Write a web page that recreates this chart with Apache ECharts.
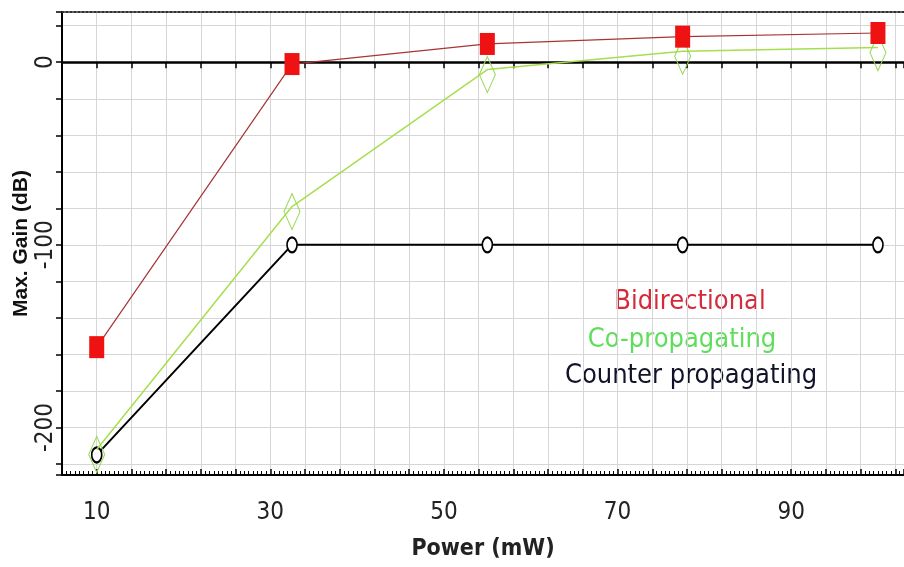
<!DOCTYPE html>
<html>
<head>
<meta charset="utf-8">
<script src="https://cdn.jsdelivr.net/npm/echarts@6/dist/echarts.min.js"></script>
<style>
  html, body { margin: 0; padding: 0; background: #fff; }
  #chart { width: 904px; height: 567px; }
</style>
</head>
<body>
<div id="chart"></div>
<script>
// data
const powerMw = [10, 32.5, 55, 77.5, 100];
const bidirectional = [-156, -1, 10, 14, 16];
const coPropagating = [-212, -79, -4, 6, 8];
const counterPropagating = [-215, -100, -100, -100, -100];
const xTickLabels = [10, 30, 50, 70, 90];
const yTickLabels = [0, -100, -200];

const narrow = "'DejaVu Sans Condensed', 'Liberation Sans Narrow', sans-serif";

const pairs = ys => powerMw.map((x, i) => [x, ys[i]]);

const chart = echarts.init(document.getElementById('chart'));

const option = {
  animation: false,
  backgroundColor: '#fff',
  grid: { left: 62, right: 0, top: 12, bottom: 92, containLabel: false, outerBoundsMode: 'none' },
  xAxis: [
    {
      // bottom axis with labels
      type: 'value',
      position: 'bottom',
      min: 6,
      max: 103,
      interval: 4,
      name: 'Power (mW)',
      nameLocation: 'middle',
      nameGap: 63,
      nameMoveOverlap: false,
      nameTextStyle: { fontFamily: narrow, fontSize: 23, fontWeight: 'bold', color: '#222' },
      axisLine: { onZero: false, lineStyle: { color: '#000', width: 2 } },
      axisTick: { inside: true, length: 6, lineStyle: { color: '#000', width: 1.5 } },
      minorTick: { show: true, splitNumber: 8, length: 4, lineStyle: { color: '#000' } },
      axisLabel: {
        margin: 26,
        fontFamily: narrow,
        fontSize: 24,
        color: '#222',
        formatter: v => (xTickLabels.includes(v) ? String(v) : '')
      },
      splitLine: { show: true, lineStyle: { color: '#d6d6d6', width: 1 } }
    },
    {
      // bold line along y = 0
      type: 'value',
      position: 'bottom',
      min: 6,
      max: 103,
      interval: 4,
      axisLine: { onZero: true, onZeroAxisIndex: 0, lineStyle: { color: '#000', width: 2.5 } },
      axisTick: { show: true, length: 6, lineStyle: { color: '#000', width: 1.5 } },
      axisLabel: { show: false },
      splitLine: { show: false }
    },
    {
      // dotted top border
      type: 'value',
      position: 'top',
      min: 6,
      max: 103,
      axisLine: { onZero: false, lineStyle: { color: '#333', width: 2, type: 'dotted' } },
      axisTick: { show: false },
      axisLabel: { show: false },
      splitLine: { show: false }
    }
  ],
  yAxis: {
    type: 'value',
    min: -226,
    max: 27.5,
    splitNumber: 12,
    name: 'Max. Gain (dB)',
    nameLocation: 'middle',
    nameGap: 30,
    nameMoveOverlap: false,
    nameTextStyle: { fontFamily: "'Liberation Sans', sans-serif", fontSize: 21, fontWeight: 'bold', color: '#111' },
    axisLine: { show: true, lineStyle: { color: '#000', width: 2 } },
    axisTick: { length: 6, lineStyle: { color: '#000', width: 1.5 } },
    axisLabel: {
      rotate: 90,
      margin: 4,
      fontFamily: narrow,
      fontSize: 24,
      color: '#222',
      formatter: v => (yTickLabels.includes(v) ? String(v) : '')
    },
    splitLine: { show: true, lineStyle: { color: '#d6d6d6', width: 1 } }
  },
  graphic: [
    { type: 'text', x: 690, y: 302, style: { text: 'Bidirectional', font: "27px 'DejaVu Sans Condensed'", fill: '#d42a3a', align: 'center', verticalAlign: 'middle' } },
    { type: 'text', x: 682, y: 340, style: { text: 'Co-propagating', font: "27px 'DejaVu Sans Condensed'", fill: '#5ede5a', align: 'center', verticalAlign: 'middle' } },
    { type: 'text', x: 691, y: 376, style: { text: 'Counter propagating', font: "27px 'DejaVu Sans Condensed'", fill: '#111128', align: 'center', verticalAlign: 'middle' } }
  ],
  series: [
    {
      name: 'Counter propagating',
      type: 'line',
      data: pairs(counterPropagating),
      symbol: 'emptyCircle',
      symbolSize: [10, 15],
      lineStyle: { color: '#000', width: 2 },
      itemStyle: { color: '#000', borderColor: '#000', borderWidth: 1.5 },
      z: 3
    },
    {
      name: 'Co-propagating',
      type: 'line',
      data: pairs(coPropagating),
      symbol: 'diamond',
      symbolSize: [16, 36],
      symbolOffset: [0, 5],
      lineStyle: { color: '#a6df4e', width: 1.5 },
      itemStyle: { color: 'rgba(255,255,255,0)', borderColor: '#9ad85a', borderWidth: 1.2 },
      z: 4
    },
    {
      name: 'Bidirectional',
      type: 'line',
      data: pairs(bidirectional),
      symbol: 'rect',
      symbolSize: [15, 22],
      lineStyle: { color: '#a83434', width: 1.2 },
      itemStyle: { color: '#ee1212' },
      z: 5
    }
  ]
};

chart.setOption(option);
</script>
</body>
</html>
